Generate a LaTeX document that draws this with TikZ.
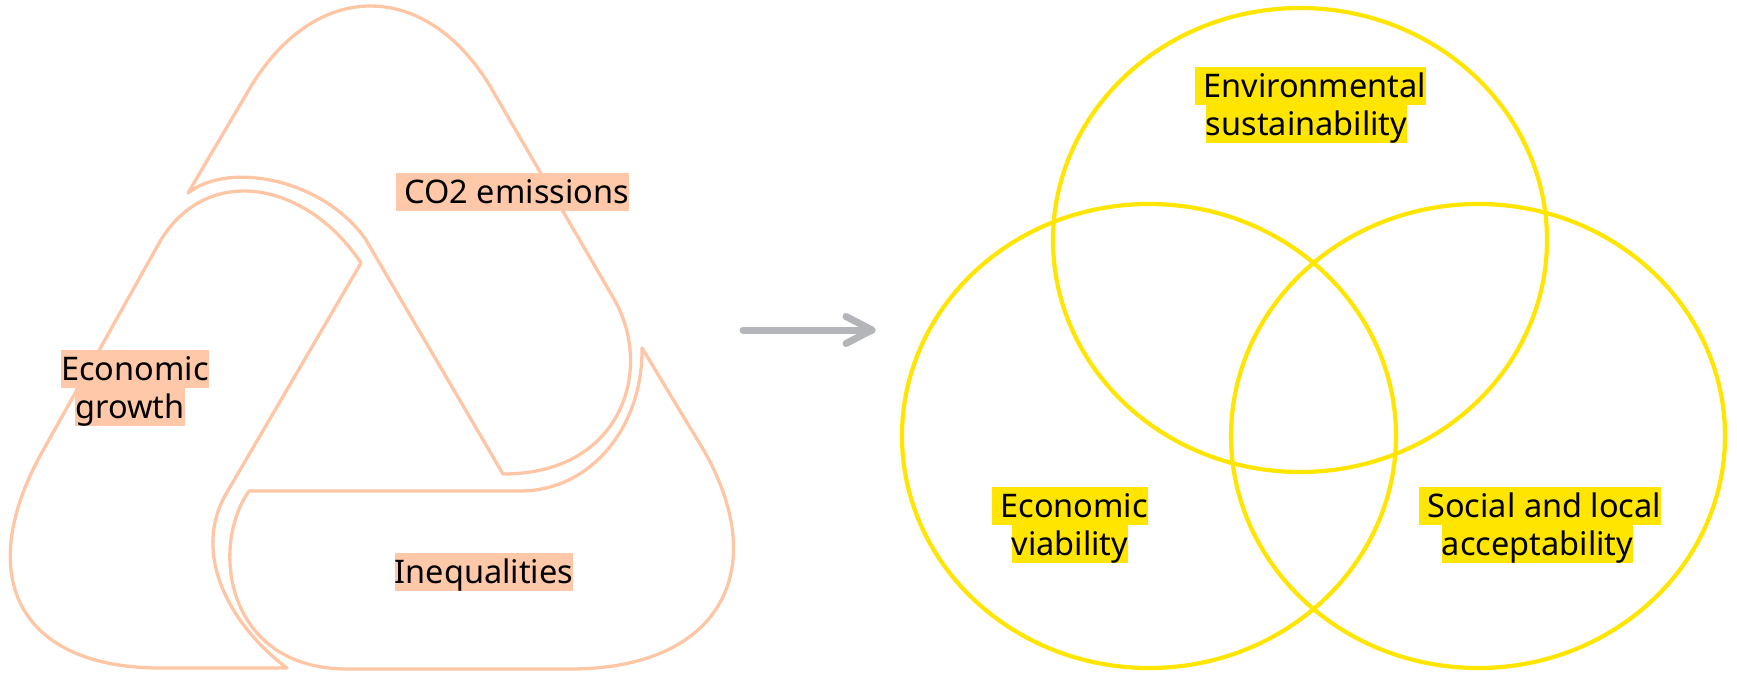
\documentclass[tikz,border=0pt]{standalone}
\usepackage{fontspec}
\setmainfont{Noto Sans}
\definecolor{peachline}{HTML}{FFC6A6}
\definecolor{peachfill}{HTML}{FFC8A8}
\definecolor{vennyellow}{HTML}{FFE500}
\definecolor{pointergray}{HTML}{B3B5B8}
\begin{document}
\begin{tikzpicture}[x=1pt,y=-1pt,
  loop/.style={draw=peachline, line width=3.3pt, line join=round},
  venn/.style={draw=vennyellow, line width=4.2pt},
  pointer/.style={draw=pointergray, line width=7pt, line cap=round, line join=round},
  lbl/.style={inner sep=0pt, text height=30.5pt, text depth=7.5pt, anchor=north,
              font=\fontsize{32.5}{38}\selectfont},
  warm/.style={lbl, fill=peachfill},
  sunny/.style={lbl, fill=vennyellow}]
\useasboundingbox (0,0) rectangle (1737,674);

% --- three interlocking arrows of the vicious cycle ---
% top arrow
\draw[loop] (188,193) -- (250,88)
  .. controls (315,-21) and (425,-21) .. (490,86)
  -- (614,299)
  .. controls (654,368) and (623,474) .. (503,474)
  -- (366,240)
  .. controls (325,180) and (230,160) .. (188,193) -- cycle;
% left arrow
\draw[loop] (361,263) -- (226,494)
  .. controls (191,555) and (231,626) .. (287,668)
  -- (160,668)
  .. controls (20,668) and (-30,577) .. (45,447)
  -- (158,245)
  .. controls (204,162) and (306,180) .. (361,263) -- cycle;
% bottom arrow
\draw[loop] (642,348) -- (703,449)
  .. controls (773,570) and (720,669) .. (570,669)
  -- (347,669)
  .. controls (227,669) and (209,548) .. (249,491)
  -- (520,491)
  .. controls (590,491) and (643,428) .. (642,348) -- cycle;

\node[warm] (co2) at (512.5,173) {\ CO2 emissions};
\node[warm] (growth1) at (135,350) {Economic\ };
\node[warm] (growth2) at (130,388) {growth};
\node[warm] (ineq) at (484,553) {Inequalities};

% --- transition arrow ---
\coordinate (arrowtail) at (743,330);
\coordinate (arrowtip) at (872,330);
\draw[pointer] (arrowtail) -- (arrowtip);
\draw[pointer] ([shift={(-26pt,13.5pt)}]arrowtip) -- (arrowtip) -- ([shift={(-26pt,-13.5pt)}]arrowtip);

% --- three-circle Venn diagram ---
\draw[venn] (1300,240) ellipse [x radius=247pt, y radius=232pt];
\draw[venn] (1149,436) ellipse [x radius=247pt, y radius=232pt];
\draw[venn] (1478,436) ellipse [x radius=247pt, y radius=232pt];

\node[sunny] (env1) at (1310.5,67) {\ Environmental\ };
\node[sunny] (env2) at (1306.5,105) {sustainability};
\node[sunny] (eco1) at (1070,487) {\ Economic};
\node[sunny] (eco2) at (1070,525) {viability};
\node[sunny] (soc1) at (1540,487) {\ Social and local\ };
\node[sunny] (soc2) at (1537.5,525) {acceptability};
\end{tikzpicture}
\end{document}
